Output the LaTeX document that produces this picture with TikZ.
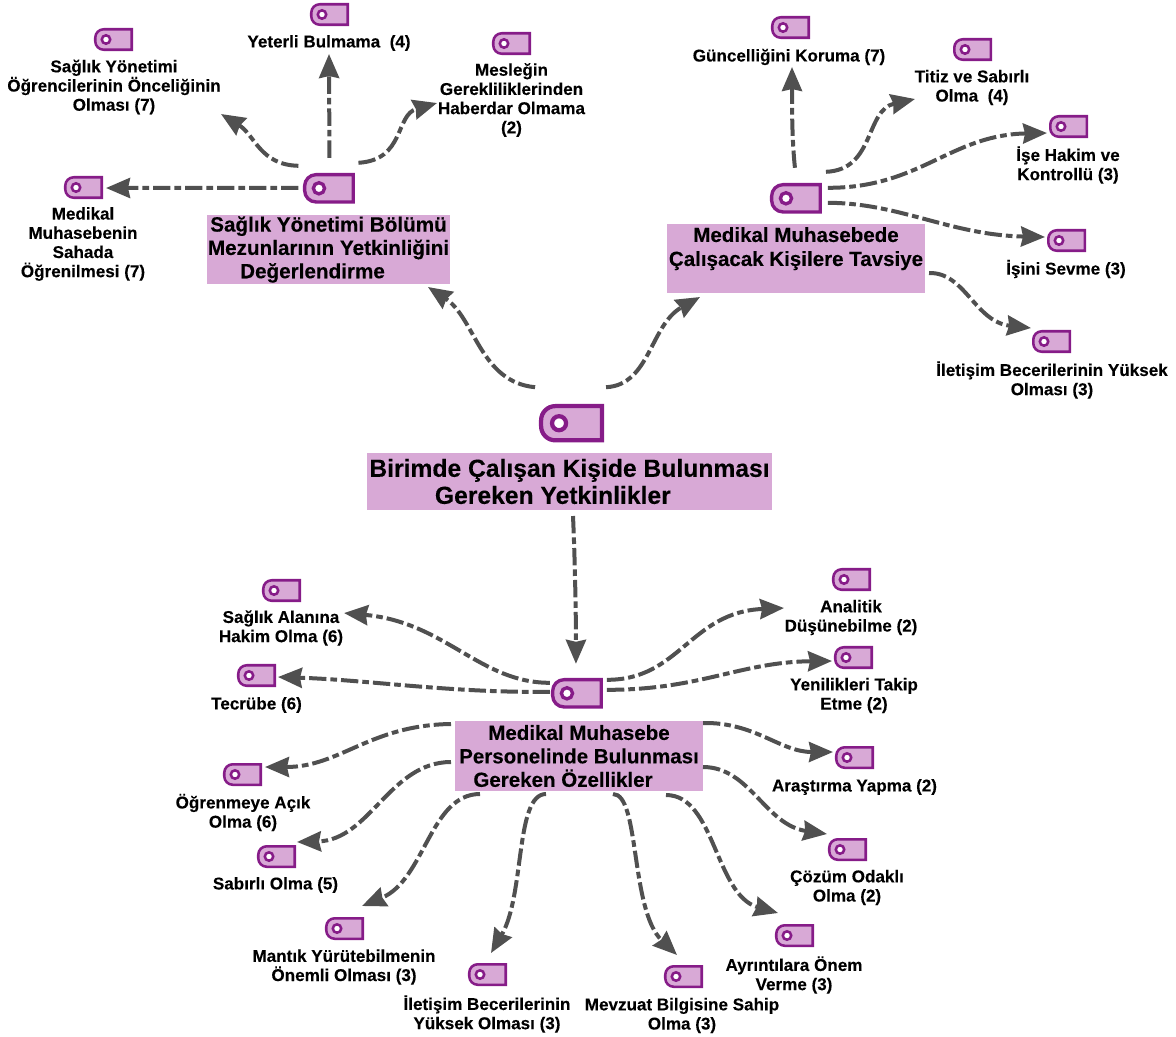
\documentclass[tikz,border=0pt]{standalone}
\usepackage{fontspec}
\setmainfont{Liberation Sans}[BoldFeatures={FakeBold=0.2}]
\usetikzlibrary{arrows.meta}
\definecolor{tagfill}{HTML}{D8A9D6}
\definecolor{tagline}{HTML}{861C88}
\definecolor{connline}{HTML}{505050}
\newcommand{\tagicon}[4]{% name, left, top, scale
  \pgfmathsetmacro{\tw}{36.5*#4}\pgfmathsetmacro{\th}{20.5*#4}
  \pgfmathsetmacro{\tcx}{#2+19.5*#4}\pgfmathsetmacro{\tcy}{#3+11.5*#4}
  \pgfmathsetmacro{\tlw}{1.9*#4}\pgfmathsetmacro{\tr}{8.5*#4}
  \pgfmathsetmacro{\rr}{4.2*#4}\pgfmathsetmacro{\rlw}{1.9*#4}
  \pgfmathsetmacro{\rx}{#2+12*#4}
  \node[tagshape,minimum width=0.75pt*\tw,minimum height=0.75pt*\th] (#1) at (\tcx,\tcy) {};
  \draw[draw=tagline,fill=tagfill,line width=\tlw pt]
    (#1.north east) [rounded corners=\tr*0.75pt] -- (#1.north west) -- (#1.south west) [sharp corners] -- (#1.south east) -- cycle;
  \draw[draw=tagline,fill=white,line width=\rlw pt] (\rx,\tcy) circle[radius=\rr];
}
\newcommand{\conn}[5]{% src, offset, controls, dst, offset
  \draw[conn] ([shift={(#2)}]#1.center) .. controls #3 .. ([shift={(#5)}]#4.center);
}
\tikzset{
  x=0.75pt,y=-0.75pt,
  tagshape/.style={inner sep=0pt,outer sep=0pt},
  conn/.style={draw=connline,line width=3pt,dash pattern=on 13pt off 3pt on 5pt off 3pt,
    -{Stealth[inset=1.5pt,length=18pt,width=15pt]}},
  lab/.style={align=center,inner sep=0pt,text=black,font=\fontsize{12.8}{14.4}\selectfont\bfseries},
  boxn/.style={fill=tagfill,inner sep=0pt,align=center,text=black},
}
\begin{document}
\begin{tikzpicture}
\useasboundingbox (0,0) rectangle (1176,1036);
% boxes
\node[boxn,minimum width=303.75pt,minimum height=42.75pt,font=\fontsize{18.5}{20.3}\selectfont\bfseries] (T) at (569.5,481.5) {Birimde Çalışan Kişide Bulunması\\Gereken Yetkinlikler\hspace{25pt}\mbox{}};
\node[boxn,minimum width=182.25pt,minimum height=51.75pt,font=\fontsize{15.5}{17.5}\selectfont\bfseries] (B1) at (328.5,249.5) {Sağlık Yönetimi Bölümü\\Mezunlarının Yetkinliğini\\Değerlendirme\hspace{24pt}\mbox{}};
\node[boxn,minimum width=193.5pt,minimum height=51.75pt,font=\fontsize{15.4}{18}\selectfont\bfseries] (B2) at (796,258.5) {Medikal Muhasebede\\Çalışacak Kişilere Tavsiye\\~};
\node[boxn,minimum width=186pt,minimum height=52.5pt,font=\fontsize{15.4}{17.6}\selectfont\bfseries] (B3) at (579,756) {Medikal Muhasebe\\Personelinde Bulunması\\Gereken Özellikler\hspace{24pt}\mbox{}};
% icons
\tagicon{C}{539}{404}{1.67}
\tagicon{H1}{303}{173}{1.33}
\tagicon{H2}{770}{183}{1.33}
\tagicon{H3}{551}{678}{1.33}
\tagicon{i1}{94}{28}{1}
\tagicon{i2}{310}{3}{1}
\tagicon{i3}{492}{32}{1}
\tagicon{i4}{64}{176}{1}
\tagicon{i5}{771}{16}{1}
\tagicon{i6}{953}{38}{1}
\tagicon{i7}{1049}{115}{1}
\tagicon{i8}{1047}{229}{1}
\tagicon{i9}{1032}{330}{1}
\tagicon{i10}{262}{579}{1}
\tagicon{i11}{832}{568}{1}
\tagicon{i12}{237}{664}{1}
\tagicon{i13}{834}{646}{1}
\tagicon{i14}{835}{746}{1}
\tagicon{i15}{223}{763}{1}
\tagicon{i16}{828}{838}{1}
\tagicon{i17}{257}{845}{1}
\tagicon{i18}{775}{924}{1}
\tagicon{i19}{325}{917}{1}
\tagicon{i20}{468}{963}{1}
\tagicon{i21}{664}{965}{1}
% labels
\node[lab] (l1) at (114,87) {Sağlık Yönetimi\\Öğrencilerinin Önceliğinin\\Olması (7)};
\node[lab] (l2) at (329,43) {Yeterli Bulmama~~(4)};
\node[lab] (l3) at (511.5,100) {Mesleğin\\Gerekliliklerinden\\Haberdar Olmama\\(2)};
\node[lab] (l4) at (83,244) {Medikal\\Muhasebenin\\Sahada\\Öğrenilmesi (7)};
\node[lab] (l5) at (789,57) {Güncelliğini Koruma (7)};
\node[lab] (l6) at (972,87.5) {Titiz ve Sabırlı\\Olma~~(4)};
\node[lab] (l7) at (1068,165) {İşe Hakim ve\\Kontrollü (3)};
\node[lab] (l8) at (1066,269) {İşini Sevme (3)};
\node[lab] (l9) at (1052,380) {İletişim Becerilerinin Yüksek\\Olması (3)};
\node[lab] (l10) at (281,628) {Sağlık Alanına\\Hakim Olma (6)};
\node[lab] (l11) at (851,617.5) {Analitik\\Düşünebilme (2)};
\node[lab] (l12) at (256.5,705) {Tecrübe (6)};
\node[lab] (l13) at (854,695.5) {Yenilikleri Takip\\Etme (2)};
\node[lab] (l14) at (854.5,787) {Araştırma Yapma (2)};
\node[lab] (l15) at (243,812.5) {Öğrenmeye Açık\\Olma (6)};
\node[lab] (l16) at (847,887.5) {Çözüm Odaklı\\Olma (2)};
\node[lab] (l17) at (275.5,885) {Sabırlı Olma (5)};
\node[lab] (l18) at (794,975) {Ayrıntılara Önem\\Verme (3)};
\node[lab] (l19) at (344,967) {Mantık Yürütebilmenin\\Önemli Olması (3)};
\node[lab] (l20) at (487,1014) {İletişim Becerilerinin\\Yüksek Olması (3)};
\node[lab] (l21) at (682,1015.5) {Mevzuat Bilgisine Sahip\\Olma (3)};
% connectors
\conn{C}{-36.5,-36}{(480,382) and (475,318)}{B1}{99.5,37.5}
\conn{C}{34.5,-36}{(650,385) and (650,325)}{B2}{-96,38.5}
\conn{T}{3.5,34.5}{(575,560) and (576,620)}{H3}{-1,-29.5}
\draw[conn] ([shift={(-30.5,-0.5)}]H1.center) -- ([shift={(22.5,0.5)}]i4.center);
\conn{H1}{-30.5,-22.5}{(260,165) and (255,135)}{l1}{107,27}
\draw[conn] ([shift={(0.5,-30.5)}]H1.center) -- ([shift={(0,11)}]l2.center);
\conn{H1}{29.5,-25.5}{(405,160) and (395,115)}{l3}{-74.5,3}
\conn{H2}{-1,-30.5}{(792,140) and (792,110)}{l5}{3,10}
\conn{H2}{30,-26.5}{(875,170) and (865,110)}{l6}{-57,11.5}
\conn{H2}{32,-10.5}{(920,188) and (950,135)}{i7}{-21.5,6.5}
\conn{H2}{32,4.5}{(900,203) and (950,235)}{i8}{-21.5,-3.5}
\conn{B2}{133,14.5}{(965,272) and (975,322)}{i9}{-20.5,-13.5}
\conn{H3}{-27,-10.5}{(480,683) and (445,622)}{l10}{63,-15}
\conn{H3}{-27,-1.5}{(450,693) and (370,680)}{i12}{21.5,1.5}
\conn{H3}{30,-13.5}{(680,680) and (690,612)}{l11}{-67,-9.5}
\conn{H3}{30,-3.5}{(700,690) and (740,662)}{i13}{-21.5,3.5}
\conn{B3}{-128,-32}{(370,725) and (340,767)}{i15}{22.5,-7.5}
\conn{B3}{-128,6}{(390,762) and (370,840)}{i17}{20.5,-14.5}
\conn{B3}{-99,38}{(430,794) and (425,880)}{i19}{17.5,-22.5}
\conn{B3}{-33,38}{(515,794) and (525,895)}{i20}{3.5,-21.5}
\conn{B3}{34,38}{(640,794) and (630,910)}{i21}{-6.5,-21.5}
\conn{B3}{87,39}{(715,795) and (715,895)}{i18}{-16.5,-22.5}
\conn{B3}{124,11}{(750,767) and (765,825)}{i16}{-20.5,-15.5}
\conn{B3}{124,-33}{(755,722) and (780,752)}{i14}{-21.5,-5.5}
\end{tikzpicture}
\end{document}
